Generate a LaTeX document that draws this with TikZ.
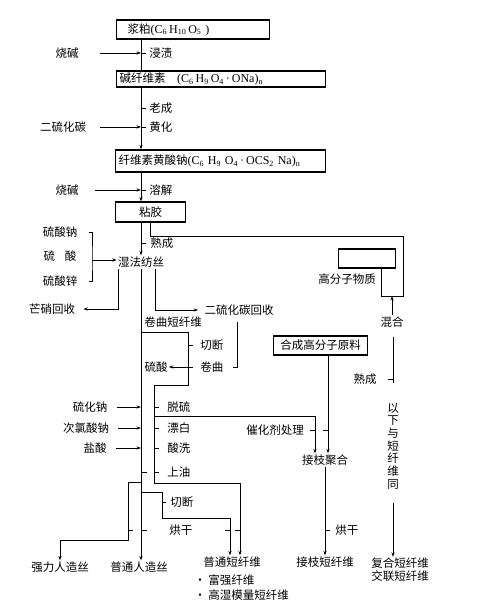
\documentclass[tikz,border=0pt]{standalone}
\usepackage{fontspec}
\setmainfont{Liberation Serif}
\newfontfamily\cjk{Noto Sans CJK SC}
\newcommand{\chem}[1]{{\rmfamily\fontsize{12}{13}\selectfont #1}}
\usetikzlibrary{arrows.meta,positioning,calc}

\begin{document}
\begin{tikzpicture}[
  x=1pt,y=-1pt,
  font=\cjk\fontsize{11.5}{13}\selectfont,
  line width=0.7pt,
  box/.style={draw,line width=1.2pt,anchor=west,inner xsep=3pt,inner ysep=0pt,text width=#1,align=left},
  lbl/.style={inner sep=1pt},
  proc/.style={anchor=west,inner sep=1pt},
  ar/.style={-{Stealth[length=4.5pt,width=3.2pt]}}
]
\useasboundingbox (0,0) rectangle (497,600);
\coordinate (spine) at (141,0);
\coordinate (staple) at (154,0);

% boxes down the spine
\node[box=147pt,minimum height=19pt] (pulp) at (116,29.5) {\hspace*{8pt}浆粕\chem{(C\textsubscript{6}\,H\textsubscript{10}\,O\textsubscript{5}\ )}};
\node[box=203pt,minimum height=16pt] (alkcell) at (116,79) {碱纤维素\quad\chem{(C\textsubscript{6}\,H\textsubscript{9}\,O\textsubscript{4}\,·\,ONa)\textsubscript{n}}};
\node[box=204pt,minimum height=22pt] (xanth) at (115,161) {纤维素黄酸钠\chem{(C\textsubscript{6}\ H\textsubscript{9}\ O\textsubscript{4}\,·\,OCS\textsubscript{2}\ Na)\textsubscript{n}}};
\node[box=64pt,minimum height=20pt,align=center] (visc) at (115,212) {粘胶};
\node[box=51pt,minimum height=19pt] (poly) at (338,258.5) {};
\node[lbl] (polylbl) at (347,279) {高分子物质};
\node[box=88pt,minimum height=19pt,align=center] (synth) at (273,345.5) {合成高分子原料};

% pulp -> viscose
\node[lbl] (lye1) at (67,53) {烧碱};
\node[proc] (soak) at (148,53) {浸渍};
\node[proc] (age) at (148,108) {老成};
\node[lbl] (cs2) at (63,127) {二硫化碳};
\node[proc] (yellow) at (148,127) {黄化};
\node[lbl] (lye2) at (67,190) {烧碱};
\node[proc] (dissolve) at (148,190) {溶解};

\draw (pulp.south -| spine) -- (alkcell.north -| spine);
\draw[ar] (alkcell.south -| spine) -- (xanth.north -| spine);
\draw[ar] (xanth.south -| spine) -- (visc.north -| spine);
\draw[ar] ([xshift=20pt]lye1.east) -- (lye1 -| spine);
\draw[ar] ([xshift=13pt]cs2.east) -- (cs2 -| spine);
\draw[ar] ([xshift=15pt]lye2.east) -- (lye2 -| spine);
\foreach \stp in {soak,age,yellow,dissolve}
  \draw (\stp.west -| spine) -- ++(5,0);

% wet spinning
\node[lbl] (spin) at (141,262) {湿法纺丝};
\node[proc] (ripen1) at (149,243) {熟成};
\node[lbl] (na2so4) at (60,232) {硫酸钠};
\node[lbl] (h2so4) at (60,256) {硫\hspace{10pt}酸};
\node[lbl] (znso4) at (60,281) {硫酸锌};
\coordinate (bath) at (92,260);
\node[lbl] (mirabilite) at (52,309) {芒硝回收};
\node[lbl] (cs2rec) at (239,310) {二硫化碳回收};

\draw[ar] (visc.south -| spine) -- (spin.north -| spine);
\draw (ripen1.west -| spine) -- ++(5,0);
\draw ([xshift=10pt]na2so4.east) -| (bath) |- ([xshift=10pt]znso4.east);
\draw[ar] (bath) -- (spin.west |- bath);
\draw[ar] ([xshift=-23pt]spin.south) |- ([xshift=7pt]mirabilite.east);
\draw[ar] ([xshift=14pt]spin.south) |- ([xshift=-5pt]cs2rec.west);

% staple fibre line
\node[proc] (crimpfib) at (143,322) {卷曲短纤维};
\node[proc] (cut1) at (199,345) {切断};
\node[proc] (crimp) at (199,367) {卷曲};
\node[lbl] (acid1) at (156,367) {硫酸};
\coordinate (loopa) at (188,332);
\coordinate (loopb) at (154,385);
\coordinate (oilturn) at (154,483);
\node[lbl] (na2s) at (90,407) {硫化钠};
\node[proc] (desulf) at (166,407) {脱硫};
\node[lbl] (naclo) at (86,428) {次氯酸钠};
\node[proc] (bleach) at (166,428) {漂白};
\node[lbl] (hcl) at (95,448) {盐酸};
\node[proc] (wash) at (166,448) {酸洗};
\node[proc] (oil) at (166,472) {上油};

% products
\node[lbl] (strong) at (60,567) {强力人造丝};
\node[lbl] (rayon) at (139,567) {普通人造丝};
\node[lbl] (staplefib) at (232,562) {普通短纤维};
\node[proc] (fuqiang) at (193,580) {• 富强纤维};
\node[proc] (hwm) at (193,595) {• 高湿模量短纤维};
\node[lbl] (graftfib) at (325,562) {接枝短纤维};
\node[lbl,align=center] (compfib) at (400,570) {复合短纤维\\交联短纤维};
\coordinate (stA) at ([xshift=-2pt]staplefib.north);
\coordinate (stB) at ([xshift=8pt]staplefib.north);

\draw ([shift={(-2,5)}]cs2rec.south) |- ([xshift=8pt]crimp.east);
\draw[ar] (loopa -| spine) -- (loopa) |- (loopb) -- (oilturn) -| (stB);
\draw (cut1.west -| loopa) -- ++(5,0);
\draw (crimp.west -| loopa) -- ++(5,0);
\draw[ar] (crimp.west -| loopa) -- (acid1.east);
\foreach \src/\stp in {na2s/desulf,naclo/bleach,hcl/wash}{
  \draw[ar] ([xshift=8pt]\src.east) -- (\src -| spine);
  \draw (\stp.west -| staple) -- ++(5,0);
}
\draw (oil.west -| spine) -- ++(6,0);
\draw (oil.west -| staple) -- ++(5,0);

% grafting
\node[lbl] (catal) at (275,430) {催化剂处理};
\node[lbl] (graft) at (325,460) {接枝聚合};
\node[proc] (dry2) at (334,530) {烘干};
\coordinate (graftturn) at (315,416);
\coordinate (graftin) at (328,0);
\draw[ar] (graftturn -| staple) -- (graftturn) -- (graftturn |- graft.north);
\draw[ar] (synth.south -| graftin) -- (graft.north -| graftin);
\draw (catal.east -| graftturn) -- ++(-5,0);
\draw (catal.east -| graftin) -- ++(-5,0);
\draw[ar] (graft.south) -- (graftfib.north);
\draw (dry2.west -| graft.south) -- ++(5,0);

% filament and cut branches
\coordinate (strongturn) at (128,482);
\coordinate (strongbend) at (128,540);
\coordinate (cutturn) at (162,492);
\coordinate (cutbend) at (162,518);
\node[proc] (cut2) at (169,502) {切断};
\node[proc] (dry1) at (168,530) {烘干};
\draw[ar] (spin.south) -- (rayon.north -| spine);
\draw[ar] (strongturn -| spine) -- (strongturn) -- (strongbend) -| (strong.north);
\draw[ar] (cutturn -| spine) -- (cutturn) -- (cutbend) -| (stA);
\draw (cut2.west -| cutturn) -- ++(4,0);
\draw (dry1 -| strongturn) -- ++(5,0);
\draw (dry1 -| spine) -- ++(6,0);
\draw (dry1 -| stA) -- ++(-5,0);
\draw (dry1 -| stB) -- ++(-5,0);

% blending branch on the right
\node[lbl] (mix) at (392,322) {混合};
\node[lbl] (ripen2) at (365,379) {熟成};
\node[lbl,align=center,font=\cjk\fontsize{11.5}{12.7}\selectfont] (same) at (393,446) {以\\下\\与\\短\\纤\\维\\同};
\coordinate (uturn) at (403,236);
\coordinate (ubot) at (381,296);
\coordinate (ripenend) at (393,383);
\draw (visc.south) -- ++(0,14) -| (uturn |- ubot) -| (poly.south -| ubot);
\draw[ar] (mix.north) -- (mix.north |- ubot);
\draw ([yshift=-8pt]mix.south -| ripenend) -- (ripenend);
\draw (ripen2.east -| ripenend) -- ++(-5,0);
\draw[ar] ([yshift=-12pt]same.south) -- (compfib.north -| same);
\end{tikzpicture}
\end{document}
